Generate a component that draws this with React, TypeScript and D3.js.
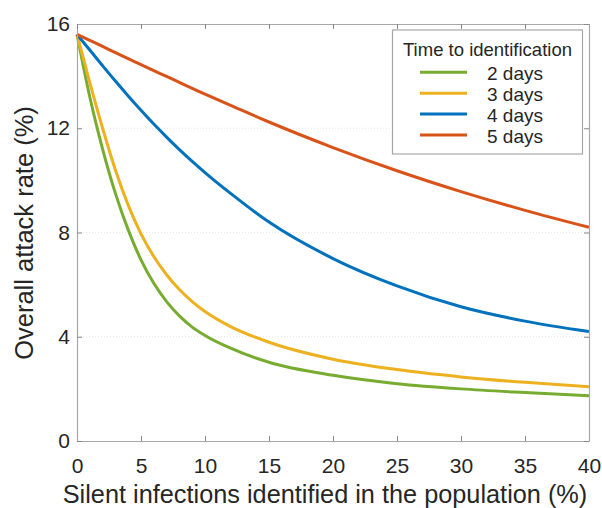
import { useRef, useEffect } from "react";
import * as d3 from "d3";

const xValues = [0, 1, 2, 3, 4, 5, 6, 7, 8, 9, 10, 12, 15, 20, 25, 30, 35, 40];
const days2 = [15.6, 13.2, 11.2, 9.5, 8.1, 6.95, 6.05, 5.35, 4.8, 4.37, 4.05, 3.56, 3.02, 2.52, 2.2, 2.0, 1.86, 1.74];
const days3 = [15.6, 13.75, 12.0, 10.4, 9.05, 7.95, 7.08, 6.38, 5.81, 5.35, 4.97, 4.39, 3.79, 3.14, 2.74, 2.46, 2.25, 2.08];
const days4 = [15.6, 15.0, 14.4, 13.81, 13.24, 12.69, 12.16, 11.66, 11.18, 10.73, 10.3, 9.5, 8.4, 7.0, 5.95, 5.15, 4.6, 4.2];
const days5 = [15.6, 15.37, 15.14, 14.9, 14.67, 14.44, 14.21, 13.99, 13.76, 13.53, 13.31, 12.88, 12.24, 11.26, 10.37, 9.57, 8.85, 8.2];

const seriesNames = ["2 days", "3 days", "4 days", "5 days"];
const seriesColors = ["#77AC30", "#EDB120", "#0072BD", "#D95319"];
const xTicks = [0, 5, 10, 15, 20, 25, 30, 35, 40];
const yTicks = [0, 4, 8, 12, 16];

const W = 602;
const H = 508;
const font = "'Liberation Sans', Arial, Helvetica, sans-serif";

export default function App() {
  const ref = useRef<SVGSVGElement | null>(null);

  useEffect(() => {
    const svg = d3.select(ref.current!);
    svg.selectAll("*").remove();

    const left = 77, right = 589, top = 24, bottom = 441;
    const x = d3.scaleLinear().domain([0, 40]).range([left, right]);
    const y = d3.scaleLinear().domain([0, 16]).range([bottom, top]);

    // faint grid
    svg.append("g")
      .selectAll("line")
      .data(yTicks.slice(1, -1))
      .join("line")
      .attr("x1", left).attr("x2", right)
      .attr("y1", (d) => y(d)).attr("y2", (d) => y(d))
      .attr("stroke", "#e6e6e6")
      .attr("stroke-width", 1)
      .attr("stroke-dasharray", "1,2");

    // lines
    const all = [days2, days3, days4, days5];
    const lineGen = d3.line<number>()
      .x((d, i) => x(xValues[i]))
      .y((d) => y(d))
      .curve(d3.curveMonotoneX);

    svg.append("g")
      .selectAll("path")
      .data(all)
      .join("path")
      .attr("d", (d) => lineGen(d))
      .attr("fill", "none")
      .attr("stroke", (d, i) => seriesColors[i])
      .attr("stroke-width", 3)
      .attr("stroke-linejoin", "round");

    // axes, ticks inward on all four sides
    const xAxis: any = d3.axisBottom(x).tickValues(xTicks).tickSizeInner(-5).tickSizeOuter(0).tickPadding(17);
    const yAxis: any = d3.axisLeft(y).tickValues(yTicks).tickSizeInner(-5).tickSizeOuter(0).tickPadding(7);
    const xTop: any = d3.axisTop(x).tickValues(xTicks).tickSizeInner(-5).tickSizeOuter(0).tickFormat(() => "");
    const yRight: any = d3.axisRight(y).tickValues(yTicks).tickSizeInner(-5).tickSizeOuter(0).tickFormat(() => "");

    const gx = svg.append("g").attr("transform", `translate(0,${bottom})`).call(xAxis);
    const gy = svg.append("g").attr("transform", `translate(${left},0)`).call(yAxis);
    const gt = svg.append("g").attr("transform", `translate(0,${top})`).call(xTop);
    const gr = svg.append("g").attr("transform", `translate(${right},0)`).call(yRight);

    [gx, gy, gt, gr].forEach((g) => {
      g.select(".domain").attr("stroke", "#a8a8a8").attr("stroke-width", 1.2);
      g.selectAll(".tick line").attr("stroke", "#888");
      g.selectAll(".tick text")
        .attr("fill", "#262626")
        .style("font-family", font)
        .style("font-size", "21px");
    });

    // axis titles
    svg.append("text")
      .attr("x", 325).attr("y", 503)
      .attr("text-anchor", "middle")
      .attr("fill", "#262626")
      .style("font-family", font)
      .style("font-size", "25.3px")
      .text("Silent infections identified in the population (%)");

    svg.append("text")
      .attr("transform", `translate(33,233) rotate(-90)`)
      .attr("text-anchor", "middle")
      .attr("fill", "#262626")
      .style("font-family", font)
      .style("font-size", "25.5px")
      .text("Overall attack rate (%)");

    // legend
    const lg = svg.append("g").attr("transform", "translate(392.5,30)");
    lg.append("rect")
      .attr("width", 190).attr("height", 124)
      .attr("fill", "white")
      .attr("stroke", "#a8a8a8")
      .attr("stroke-width", 1.2);
    lg.append("text")
      .attr("x", 95).attr("y", 25.5)
      .attr("text-anchor", "middle")
      .attr("fill", "#262626")
      .style("font-family", font)
      .style("font-size", "18.5px")
      .text("Time to identification");
    const items = lg.selectAll("g.item")
      .data(seriesNames)
      .join("g")
      .attr("class", "item")
      .attr("transform", (d, i) => `translate(0,${42.3 + i * 20.9})`);
    items.append("line")
      .attr("x1", 27.5).attr("x2", 74.5)
      .attr("stroke", (d, i) => seriesColors[i])
      .attr("stroke-width", 3);
    items.append("text")
      .attr("x", 94.5).attr("y", 7.5)
      .attr("fill", "#262626")
      .style("font-family", font)
      .style("font-size", "19px")
      .text((d) => d);
  }, []);

  return (
    <svg
      ref={ref}
      width={W}
      height={H}
      style={{ position: "absolute", left: 0, top: 0, background: "white" }}
    ></svg>
  );
}
